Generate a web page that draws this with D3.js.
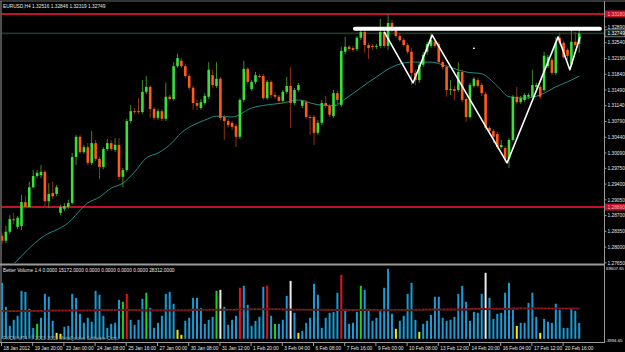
<!DOCTYPE html>
<html><head><meta charset="utf-8">
<script src="https://cdn.jsdelivr.net/npm/d3@7"></script>
<style>html,body{margin:0;padding:0;background:#000;overflow:hidden}svg{display:block}</style>
</head><body>
<svg id="c" width="625" height="352"></svg>
<script>
// ---------- DATA (EURUSD H4) ----------
const open=[1.2825,1.2814,1.2834,1.2862,1.2845,1.2847,1.2900,1.2889,1.2933,1.2958,
1.2960,1.2967,1.2902,1.2920,1.2918,1.2876,1.2885,1.2889,1.2898,1.3000,
1.3045,1.3011,1.3022,1.2987,1.3031,1.2996,1.2978,1.3018,1.3031,1.3016,
1.3027,1.2956,1.2971,1.3080,1.3102,1.3102,1.3100,1.3145,1.3156,1.3107,
1.3087,1.3102,1.3085,1.3134,1.3129,1.3202,1.3214,1.3202,1.3180,1.3154,
1.3120,1.3109,1.3120,1.3134,1.3182,1.3158,1.3174,1.3089,1.3080,1.3076,
1.3069,1.3045,1.3127,1.3196,1.3151,1.3167,1.3180,1.3180,1.3131,1.3167,
1.3138,1.3134,1.3125,1.3145,1.3158,1.3120,1.3149,1.3114,1.3122,1.3089,
1.3089,1.3054,1.3076,1.3120,1.3114,1.3091,1.3142,1.3116,1.3234,1.3245,
1.3242,1.3240,1.3265,1.3278,1.3249,1.3247,1.3245,1.3247,1.3278,1.3247,
1.3298,1.3282,1.3269,1.3260,1.3249,1.3234,1.3187,1.3171,1.3205,1.3234,
1.3247,1.3256,1.3251,1.3211,1.3200,1.3149,1.3151,1.3149,1.3189,1.3129,
1.3089,1.3158,1.3171,1.3160,1.3140,1.3065,1.3058,1.3051,1.3022,1.3020,
1.2996,1.3038,1.3134,1.3122,1.3127,1.3134,1.3134,1.3156,1.3156,1.3149,
1.3202,1.3216,1.3187,1.3265,1.3254,1.3238,1.3205,1.3256,1.32516];
const high=[1.2831,1.2847,1.2871,1.2876,1.2869,1.2916,1.2913,1.2945,1.2971,1.2971,
1.2982,1.2971,1.2942,1.2945,1.2938,1.2894,1.2898,1.2905,1.3009,1.3049,
1.3049,1.3027,1.3031,1.3058,1.3038,1.3000,1.3022,1.3040,1.3038,1.3042,
1.3042,1.2976,1.3085,1.3116,1.3109,1.3131,1.3171,1.3180,1.3160,1.3111,
1.3107,1.3107,1.3165,1.3138,1.3211,1.3229,1.3220,1.3207,1.3185,1.3158,
1.3127,1.3129,1.3142,1.3211,1.3194,1.3211,1.3178,1.3094,1.3085,1.3080,
1.3074,1.3131,1.3214,1.3200,1.3171,1.3189,1.3185,1.3185,1.3171,1.3171,
1.3145,1.3138,1.3149,1.3178,1.3200,1.3154,1.3165,1.3127,1.3127,1.3094,
1.3094,1.3082,1.3127,1.3136,1.3118,1.3149,1.3147,1.3245,1.3267,1.3249,
1.3247,1.3269,1.3282,1.3282,1.3254,1.3251,1.3251,1.3307,1.3282,1.3318,
1.3305,1.3287,1.3276,1.3265,1.3254,1.3242,1.3194,1.3211,1.3234,1.3256,
1.3276,1.3260,1.3256,1.3216,1.3205,1.3171,1.3158,1.3211,1.3194,1.3134,
1.3165,1.3178,1.3176,1.3165,1.3145,1.3069,1.3062,1.3056,1.3038,1.3025,
1.3042,1.3138,1.3156,1.3136,1.3142,1.3142,1.3194,1.3165,1.3160,1.3234,
1.3227,1.3220,1.3267,1.3276,1.3258,1.3242,1.3282,1.3278,1.32846];
const low=[1.2807,1.2809,1.2829,1.2851,1.2840,1.2838,1.2885,1.2887,1.2931,1.2953,
1.2953,1.2889,1.2887,1.2907,1.2913,1.2871,1.2880,1.2885,1.2894,1.2982,
1.3007,1.3007,1.2982,1.2982,1.2991,1.2951,1.2973,1.3013,1.3013,1.3011,
1.2949,1.2933,1.2967,1.3076,1.3096,1.3096,1.3096,1.3140,1.3087,1.3082,
1.3082,1.3080,1.3080,1.3125,1.3125,1.3198,1.3198,1.3176,1.3149,1.3105,
1.3105,1.3105,1.3116,1.3129,1.3154,1.3154,1.3082,1.3038,1.3065,1.3060,
1.3022,1.3040,1.3122,1.3162,1.3147,1.3162,1.3176,1.3127,1.3127,1.3131,
1.3129,1.3120,1.3120,1.3140,1.3065,1.3116,1.3145,1.3109,1.3085,1.3049,
1.3027,1.3049,1.3071,1.3109,1.3089,1.3087,1.3114,1.3111,1.3229,1.3236,
1.3234,1.3236,1.3260,1.3231,1.3218,1.3238,1.3240,1.3242,1.3242,1.3238,
1.3278,1.3265,1.3256,1.3245,1.3229,1.3160,1.3160,1.3165,1.3200,1.3227,
1.3242,1.3242,1.3207,1.3194,1.3134,1.3138,1.3127,1.3145,1.3122,1.3078,
1.3085,1.3154,1.3154,1.3136,1.3060,1.3054,1.3031,1.3018,1.3018,1.2987,
1.2976,1.3034,1.3118,1.3118,1.3122,1.3129,1.3129,1.3151,1.3129,1.3145,
1.3198,1.3182,1.3182,1.3249,1.3218,1.3216,1.3200,1.3245,1.32319];
const close=[1.2814,1.2834,1.2862,1.2860,1.2865,1.2900,1.2889,1.2933,1.2958,1.2965,
1.2967,1.2902,1.2918,1.2913,1.2933,1.2889,1.2891,1.2898,1.3000,1.3045,
1.3011,1.3022,1.2987,1.3031,1.2996,1.2978,1.3018,1.3031,1.3018,1.3027,
1.2956,1.2971,1.3080,1.3102,1.3100,1.3100,1.3145,1.3156,1.3107,1.3087,
1.3102,1.3085,1.3134,1.3129,1.3202,1.3220,1.3202,1.3180,1.3154,1.3120,
1.3114,1.3122,1.3136,1.3194,1.3160,1.3174,1.3087,1.3080,1.3071,1.3067,
1.3045,1.3127,1.3196,1.3167,1.3167,1.3182,1.3179,1.3131,1.3167,1.3138,
1.3134,1.3125,1.3145,1.3158,1.3120,1.3149,1.3160,1.3125,1.3089,1.3088,
1.3054,1.3076,1.3120,1.3114,1.3094,1.3142,1.3127,1.3236,1.3245,1.3240,
1.3238,1.3265,1.3278,1.3249,1.3242,1.3245,1.3247,1.3278,1.3247,1.3298,
1.3282,1.3269,1.3260,1.3249,1.3234,1.3187,1.3171,1.3205,1.3227,1.3251,
1.3260,1.3247,1.3211,1.3200,1.3149,1.3151,1.3147,1.3189,1.3127,1.3089,
1.3160,1.3174,1.3158,1.3142,1.3065,1.3058,1.3045,1.3022,1.3027,1.2996,
1.3038,1.3134,1.3122,1.3131,1.3138,1.3138,1.3160,1.3160,1.3134,1.3225,
1.3222,1.3187,1.3254,1.3254,1.3222,1.3225,1.3256,1.3249,1.32749];

// moving average on the price chart (sampled at candle indices)
const maIdx=[3,10,17,22,25,28,31,34,37,40,43,46,49,52,55,59,64,68,72,76,80,85,88,92,96,100,105,110,114,119,123,127,130,134,138,142,145,148];
const maVal=[1.2762,1.2820,1.2854,1.2898,1.2911,1.2931,1.2942,1.2967,1.2998,1.3009,1.3027,1.3054,1.3071,1.3082,1.3091,1.3089,1.3109,1.3116,1.3120,1.3127,1.3118,1.3114,1.3129,1.3154,1.3178,1.3200,1.3211,1.3211,1.3202,1.3189,1.3185,1.3158,1.3134,1.3131,1.3138,1.3156,1.3167,1.3180];

// Better Volume histogram
const volume=[53500,30600,12400,18200,22000,45900,44900,28700,10500,14300,
20100,43000,40200,17200,5700,4800,11500,12400,43000,39200,
23900,15300,20100,16300,45900,42100,22000,10500,14300,15300,
37300,35400,43000,18200,13400,18200,38200,44000,29600,10500,
15300,22000,43000,44900,33500,8600,3800,17200,20100,39200,
39200,29600,14300,18200,21000,45900,46800,30600,13400,18200,
22000,48800,50700,32500,12400,17200,21000,49700,50700,22000,
14300,14300,18200,41100,55400,24900,5700,7600,15300,20100,
52600,42100,10500,20100,24900,25800,44000,61200,28700,14300,
15300,25800,50700,46800,28700,17200,20100,26800,48800,66900,
23900,9600,17200,22000,43000,53500,18200,6700,14300,17200,
22900,40200,40200,20100,17200,18200,21000,43000,50700,35400,
17200,25800,24900,43000,63100,39200,19100,23900,24900,44000,
53500,29600,12400,15300,15300,34400,44000,21000,5700,19100,
16300,15300,33500,27700,10500,10500,29600,26800,15172];
const volType=("bbbbbbbbbg"+"bbbbyybbbb"+"bbbbbbbbbb"+"bgrbbbbgbb"+"bbbbbyybbb"+
"bbbbbgwbbb"+"brbbbbbbrb"+"gbbbwbybbb"+"bbbbbbbrbb"+"bbgbbbbbbb"+
"bybbbbbybb"+"bbbbbbbbbb"+"bbbbwbbbbb"+"bbybbbbbyb"+"bbbbbbbbb").split("");
const vaIdx=[0,12,24,36,48,60,72,84,96,108,120,132,148];
const vaBrown=[26500,27000,27500,27000,27800,28200,27900,27500,27200,27800,28600,29000,28312];
const vaRed=[26000,26800,27300,27500,27600,28000,28400,27600,27800,28300,28800,29300,28800];

// annotations
const zzIdx=[98,105.4,110.3,129.5,142.6,145.6,148.2];
const zzPrice=[1.3278,1.3165,1.3271,1.2987,1.3267,1.3194,1.3267];
const resLevel=1.3285, resFrom=90.5, resTo=153.3;
const redLevels=[1.3318,1.2889];
const redLabels=["1.33180","1.28890"];
const bidPrice=1.32749;

// axes
const priceTicks=[1.28000,1.28350,1.28700,1.29050,1.29400,1.29750,1.30090,1.30440,1.30790,1.31140,1.31490,1.31840,1.32190,1.32540,1.32890,1.27650];
const dateIdx=[0,8,16,24,32,40,48,56,64,72,80,88,96,104,112,120,128,136,144];
const dateLabels=["18 Jan 2012","19 Jan 20:00","23 Jan 00:00","24 Jan 08:00","25 Jan 16:00","27 Jan 00:00","30 Jan 08:00","31 Jan 12:00","1 Feb 20:00","3 Feb 04:00","6 Feb 08:00","7 Feb 16:00","9 Feb 00:00","10 Feb 08:00","13 Feb 12:00","14 Feb 20:00","16 Feb 04:00","17 Feb 12:00","20 Feb 16:00"];
const volMax=69607.65, volMin=-3994.65;
const titleText="EURUSD,H4 1.32516 1.32846 1.32319 1.32749";
const volTitle="Better Volume 1.4 0.0000 15172.0000 0.0000 0.0000 0.0000 0.0000 28312.0000";
const copyText="FXCM MT4, \u00A9 2001-2013 MetaQuotes Software Corp.";

// ---------- DRAW ----------
const svg=d3.select("#c");
const FONT="'Liberation Sans', Arial, sans-serif";
const FS=4.8;
svg.append("rect").attr("width",625).attr("height",352).attr("fill","#000");

const x=d3.scaleLinear().domain([0,148]).range([2,579.2]);
const y=d3.scaleLinear().domain([1.27646,1.3349]).range([263,0]);
const yv=d3.scaleLinear().domain([volMin,volMax]).range([343,266]);

const defs=svg.append("defs");
defs.append("clipPath").attr("id","pc").append("rect").attr("x",1.5).attr("y",2).attr("width",602.5).attr("height",261);
defs.append("clipPath").attr("id","vc").append("rect").attr("x",1.5).attr("y",266).attr("width",602.5).attr("height",76);

const pg=svg.append("g").attr("clip-path","url(#pc)");
// horizontal levels
pg.selectAll("line.red").data(redLevels).join("line").attr("class","red")
  .attr("x1",0).attr("x2",604).attr("y1",d=>y(d)).attr("y2",d=>y(d))
  .attr("stroke","#c0102c").attr("stroke-width",2);
pg.append("line").attr("x1",0).attr("x2",604).attr("y1",y(bidPrice)).attr("y2",y(bidPrice))
  .attr("stroke","#23372a").attr("stroke-width",1.6);

// moving average
pg.append("path").datum(maIdx.map((d,i)=>[d,maVal[i]]))
  .attr("d",d3.line().x(d=>x(d[0])).y(d=>y(d[1])).curve(d3.curveMonotoneX))
  .attr("fill","none").attr("stroke","#1f8c86").attr("stroke-width",1);

// candles
const idx=d3.range(open.length);
const cg=pg.append("g");
cg.selectAll("line.w").data(idx).join("line").attr("class","w")
  .attr("x1",i=>x(i)).attr("x2",i=>x(i)).attr("y1",i=>y(high[i])).attr("y2",i=>y(low[i]))
  .attr("stroke",i=>close[i]>=open[i]?"#3f8a22":"#8a3216").attr("stroke-width",1);
cg.selectAll("rect.b").data(idx).join("rect").attr("class","b")
  .attr("x",i=>x(i)-1.3).attr("width",2.6)
  .attr("y",i=>y(Math.max(open[i],close[i])))
  .attr("height",i=>Math.max(1,Math.abs(y(open[i])-y(close[i]))))
  .attr("fill",i=>close[i]>=open[i]?"#36e23a":"#ff5a1e");

// zigzag + resistance bar
pg.append("path").datum(zzIdx.map((d,i)=>[d,zzPrice[i]]))
  .attr("d",d3.line().x(d=>x(d[0])).y(d=>y(d[1])))
  .attr("fill","none").attr("stroke","#ffffff").attr("stroke-width",1.6).attr("stroke-linejoin","round");
pg.append("line").attr("x1",x(resFrom)).attr("x2",x(resTo)).attr("y1",y(resLevel)).attr("y2",y(resLevel))
  .attr("stroke","#ffffff").attr("stroke-width",4).attr("stroke-linecap","round");
pg.append("rect").attr("x",x(121)-1).attr("y",y(1.3242)-0.5).attr("width",2).attr("height",1.2).attr("fill","#fff");

// volume panel
const vg=svg.append("g").attr("clip-path","url(#vc)");
const vcol={b:"#1b9bd6",y:"#f0f000",g:"#16d616",r:"#e8101c",w:"#ececec"};
vg.selectAll("rect.v").data(idx).join("rect").attr("class","v")
  .attr("x",i=>x(i)-1).attr("width",2)
  .attr("y",i=>yv(volume[i])).attr("height",i=>yv(0)-yv(volume[i]))
  .attr("fill",i=>vcol[volType[i]]);
vg.append("path").datum(vaIdx.map((d,i)=>[d,vaBrown[i]]))
  .attr("d",d3.line().x(d=>x(d[0])).y(d=>yv(d[1])).curve(d3.curveStepAfter))
  .attr("fill","none").attr("stroke","#4a1c12").attr("stroke-width",2);
vg.append("path").datum(vaIdx.map((d,i)=>[d,vaRed[i]]))
  .attr("d",d3.line().x(d=>x(d[0])).y(d=>yv(d[1])).curve(d3.curveMonotoneX))
  .attr("fill","none").attr("stroke","#b8102a").attr("stroke-width",1).attr("stroke-dasharray","2,1.5");

// frame
const gray="#9a9a9a";
svg.append("line").attr("x1",0).attr("x2",625).attr("y1",1).attr("y2",1).attr("stroke","#6a6a6a").attr("stroke-width",1);
svg.append("line").attr("x1",1).attr("x2",1).attr("y1",1).attr("y2",343).attr("stroke",gray).attr("stroke-width",1);
svg.append("line").attr("x1",604.5).attr("x2",604.5).attr("y1",1).attr("y2",343).attr("stroke",gray).attr("stroke-width",1);
svg.append("line").attr("x1",0).attr("x2",605).attr("y1",264.5).attr("y2",264.5).attr("stroke",gray).attr("stroke-width",2);
svg.append("line").attr("x1",0).attr("x2",605).attr("y1",342.5).attr("y2",342.5).attr("stroke",gray).attr("stroke-width",1);

// price axis
const ax=svg.append("g");
ax.selectAll("line.t").data(priceTicks).join("line").attr("class","t")
  .attr("x1",604.5).attr("x2",606.5).attr("y1",d=>y(d)).attr("y2",d=>y(d)).attr("stroke",gray);
ax.selectAll("text.t").data(priceTicks).join("text").attr("class","t")
  .attr("x",607.5).attr("y",d=>y(d)+1.7).text(d=>d.toFixed(5))
  .attr("font-family",FONT).attr("font-size",FS).attr("fill","#e6e6e6");
redLevels.forEach((d,i)=>{
  ax.append("rect").attr("x",605).attr("y",y(d)-3.5).attr("width",20).attr("height",7).attr("fill","#c0102c");
  ax.append("text").attr("x",607.5).attr("y",y(d)+1.7).text(redLabels[i])
    .attr("font-family",FONT).attr("font-size",FS).attr("fill","#f3b0b6");
});
ax.append("rect").attr("x",605).attr("y",y(bidPrice)-3.5).attr("width",20).attr("height",7)
  .attr("fill","#0c140e").attr("stroke","#b8c4b8").attr("stroke-width",0.6);
ax.append("text").attr("x",607.5).attr("y",y(bidPrice)+1.7).text(bidPrice.toFixed(5))
  .attr("font-family",FONT).attr("font-size",FS).attr("fill","#ffffff");

// volume axis labels
ax.append("text").attr("x",606).attr("y",yv(volMax)+3.5).text(volMax.toFixed(2))
  .attr("font-family",FONT).attr("font-size",4.3).attr("fill","#e6e6e6");
ax.append("text").attr("x",605.5).attr("y",yv(volMin)-1.5).text(volMin.toFixed(2))
  .attr("font-family",FONT).attr("font-size",4.3).attr("fill","#e6e6e6");

// time axis
ax.selectAll("line.d").data(dateIdx).join("line").attr("class","d")
  .attr("x1",i=>x(i)-0.5).attr("x2",i=>x(i)-0.5).attr("y1",342.5).attr("y2",346).attr("stroke",gray);
ax.selectAll("text.d").data(dateIdx).join("text").attr("class","d")
  .attr("x",i=>x(i)+1.5).attr("y",350).text((d,k)=>dateLabels[k])
  .attr("font-family",FONT).attr("font-size",FS).attr("fill","#e6e6e6");

// titles
svg.append("text").attr("x",3).attr("y",7.5).text(titleText)
  .attr("font-family",FONT).attr("font-size",FS).attr("fill","#e8e8e8");
svg.append("text").attr("x",3).attr("y",271.5).text(volTitle)
  .attr("font-family",FONT).attr("font-size",FS).attr("fill","#e8e8e8");
svg.append("text").attr("x",3).attr("y",340).text(copyText)
  .attr("font-family",FONT).attr("font-size",FS).attr("fill","#a8a8a8");
</script>
</body></html>
